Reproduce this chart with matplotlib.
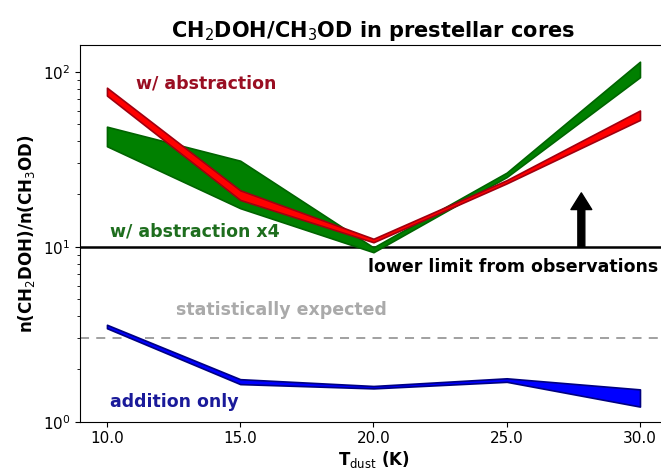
#! /usr/bin/python3
#
#   plot.py
#
# ------------------------------------------------------------------
import matplotlib
matplotlib.use('Agg')

import matplotlib.pyplot as plt
from matplotlib.ticker import FormatStrFormatter

# ------------------------------------------------------------------
t_dust = [10.0, 15.0, 20.0, 25.0, 30.0]

abstr_lo = [73.0, 18.5, 10.6, 23.0, 53.0]
abstr_hi = [81.0, 21.0, 11.1, 24.0, 60.0]

abstr4_lo = [37.5, 16.6, 9.3, 25.0, 93.0]
abstr4_hi = [48.5, 31.0, 9.9, 26.5, 114.0]

addit_lo = [3.42, 1.64, 1.55, 1.69, 1.22]
addit_hi = [3.58, 1.75, 1.60, 1.77, 1.53]

obs_limit = 10.0
stat_expected = 3.0
x_ticks = [10.0, 15.0, 20.0, 25.0, 30.0]

# ------------------------------------------------------------------
fig = plt.figure(figsize=(6.61, 4.75), dpi=100)
ax = fig.add_axes([0.1215, 0.1122, 0.887, 0.793])

ax.fill_between(t_dust, abstr4_lo, abstr4_hi, facecolor='green',
                edgecolor='darkgreen', lw=1.2, zorder=2)
ax.fill_between(t_dust, abstr_lo, abstr_hi, facecolor='red',
                edgecolor='#a00010', lw=1.2, zorder=3)
ax.fill_between(t_dust, addit_lo, addit_hi, facecolor='blue',
                edgecolor='navy', lw=1.2, zorder=3)

ax.axhline(obs_limit, color='black', lw=1.8, zorder=1)
ax.axhline(stat_expected, color='#999999', lw=1.3, ls=(0, (5, 4)), zorder=1)

ax.annotate('', xy=(27.8, 20.3), xytext=(27.8, obs_limit),
            arrowprops=dict(facecolor='black', edgecolor='black',
                            width=5, headwidth=15, headlength=12))

# labels
fs = 12.5
ax.text(11.09, 86, 'w/ abstraction', color='#9a0e22', fontsize=fs,
        fontweight='bold', va='center')
ax.text(10.11, 12.2, 'w/ abstraction x4', color='#1e6e1e', fontsize=fs,
        fontweight='bold', va='center')
ax.text(19.8, 7.66, 'lower limit from observations', color='black',
        fontsize=fs, fontweight='bold', va='center')
ax.text(12.59, 4.35, 'statistically expected', color='#aaaaaa',
        fontsize=fs, fontweight='bold', va='center')
ax.text(10.11, 1.30, 'addition only', color='#1a1a9a', fontsize=fs,
        fontweight='bold', va='center')

ax.set_yscale('log')
ax.set_xlim(9.0, 31.0)
ax.set_ylim(1.0, 142.0)
ax.set_xticks(x_ticks)
ax.xaxis.set_major_formatter(FormatStrFormatter('%.1f'))
ax.tick_params(labelsize=11)
ax.spines['right'].set_visible(False)

ax.set_title('CH$_2$DOH/CH$_3$OD in prestellar cores', fontsize=15,
             fontweight='bold')
ax.set_xlabel('T$_{\\rm dust}$ (K)', fontsize=12, fontweight='bold',
              labelpad=2)
ax.set_ylabel('n(CH$_2$DOH)/n(CH$_3$OD)', fontsize=12, fontweight='bold')

plt.savefig('out.png', dpi=100)
# ------------------------------------------------------------------
